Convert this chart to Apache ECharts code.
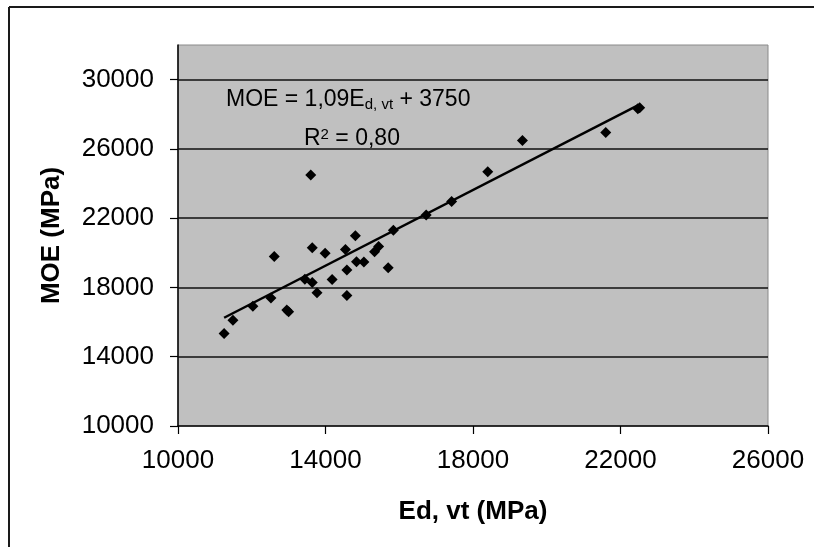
<!DOCTYPE html>
<html>
<head>
<meta charset="utf-8">
<script src="https://cdn.jsdelivr.net/npm/echarts@6/dist/echarts.min.js"></script>
<style>
html,body{margin:0;padding:0;background:#fff;}
#chart{width:814px;height:547px;}
</style>
</head>
<body>
<div id="chart"></div>
<script>
// Data
const edVt = [11250, 11490, 12030, 12520, 12950, 13000, 12610, 13440, 13640, 13770, 13600, 13640, 13990, 14180, 14540, 14580, 14580, 14810, 14840, 15040, 15330, 15440, 15700, 15840, 16730, 17420, 18400, 19340, 21600, 22470, 22520];
const moe  = [15340, 16100, 16910, 17390, 16700, 16600, 19790, 18480, 18290, 17700, 24490, 20290, 19980, 18460, 20190, 19010, 17530, 20990, 19490, 19470, 20060, 20370, 19140, 21300, 22190, 22960, 24680, 26480, 26950, 28320, 28380];
const trendX = [11250, 22470];
const trendY = [16250, 28510];
const yTicks = [10000, 14000, 18000, 22000, 26000, 30000];
const xTicks = [10000, 14000, 18000, 22000, 26000];
const gridLinesY = [14000, 18000, 22000, 26000, 30000];

const FONT = "'Liberation Sans', Arial, sans-serif";
const chart = echarts.init(document.getElementById('chart'), null, {renderer: 'canvas'});

const points = edVt.map((x, i) => [x, moe[i]]);
const trend = trendX.map((x, i) => [x, trendY[i]]);

chart.setOption({
  animation: false,
  backgroundColor: '#ffffff',
  grid: {
    left: 178, right: 46, top: 45, bottom: 121,
    show: true, backgroundColor: '#c0c0c0', borderColor: '#8a8a8a', borderWidth: 1
  },
  xAxis: {
    type: 'value', min: 10000, max: 26000, interval: 4000,
    name: 'Ed, vt (MPa)', nameLocation: 'middle', nameGap: 73,
    nameTextStyle: {fontFamily: FONT, fontSize: 26, fontWeight: 'bold', color: '#000'},
    axisLine: {show: true, onZero: false, lineStyle: {color: '#000', width: 1.5}},
    axisTick: {show: true, inside: false, length: 8, lineStyle: {color: '#000', width: 1.2}},
    axisLabel: {fontFamily: FONT, fontSize: 26, color: '#000', margin: 22,
      formatter: v => xTicks.includes(v) ? String(v) : ''},
    splitLine: {show: false}
  },
  yAxis: {
    type: 'value', min: 10000, max: 32000, interval: 4000,
    name: 'MOE (MPa)', nameLocation: 'middle', nameGap: 113,
    nameTextStyle: {fontFamily: FONT, fontSize: 26, fontWeight: 'bold', color: '#000'},
    axisLine: {show: true, onZero: false, lineStyle: {color: '#000', width: 1.5}},
    axisTick: {show: true, inside: false, length: 8, lineStyle: {color: '#000', width: 1.2},
      customValues: yTicks},
    axisLabel: {fontFamily: FONT, fontSize: 26, color: '#000', margin: 24,
      customValues: yTicks,
      formatter: v => yTicks.includes(v) ? String(v) : ''},
    splitLine: {show: false}
  },
  series: [
    {
      type: 'line',
      data: trend,
      z: 5,
      showSymbol: false,
      symbol: 'none',
      lineStyle: {color: '#000', width: 2.5},
      silent: true,
      markLine: {
        silent: true,
        symbol: ['none', 'none'],
        label: {show: false},
        lineStyle: {color: '#111', width: 1.5, type: 'solid'},
        data: gridLinesY.map(v => ({yAxis: v})),
        z: 1
      }
    },
    {
      type: 'scatter',
      data: points,
      z: 4,
      symbol: 'diamond',
      symbolSize: 11,
      itemStyle: {color: '#000', opacity: 1}
    }
  ],
  graphic: [
    {type: 'line', shape: {x1: 9, y1: 7, x2: 814, y2: 7}, style: {stroke: '#1a1a1a', lineWidth: 2}},
    {type: 'line', shape: {x1: 9, y1: 7, x2: 9, y2: 547}, style: {stroke: '#1a1a1a', lineWidth: 2}},
    {
      type: 'text', x: 226, y: 100, z: 10,
      style: {
        text: '{a|MOE = 1,09E}{s|d, vt}{a| + 3750}',
        verticalAlign: 'middle', align: 'left',
        rich: {
          a: {fontFamily: FONT, fontSize: 23, lineHeight: 24, color: '#000', verticalAlign: 'middle'},
          s: {fontFamily: FONT, fontSize: 15, lineHeight: 10, color: '#000', verticalAlign: 'bottom'}
        }
      }
    },
    {
      type: 'text', x: 304, y: 139, z: 10,
      style: {
        text: '{a|R}{p|2}{a| = 0,80}',
        verticalAlign: 'middle', align: 'left',
        rich: {
          a: {fontFamily: FONT, fontSize: 23, lineHeight: 24, color: '#000', verticalAlign: 'middle'},
          p: {fontFamily: FONT, fontSize: 15, lineHeight: 11, color: '#000', verticalAlign: 'top'}
        }
      }
    }
  ]
});
</script>
</body>
</html>
